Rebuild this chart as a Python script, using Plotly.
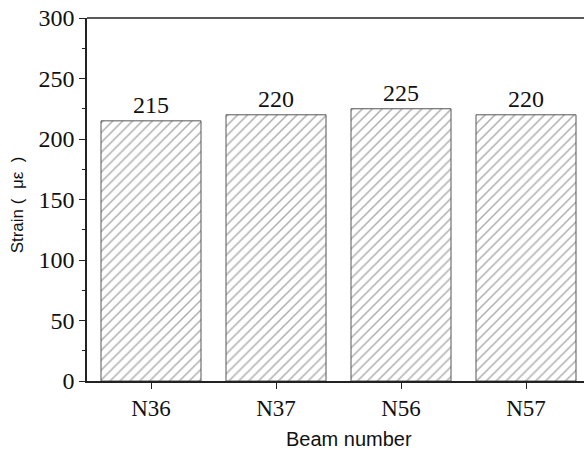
import plotly.graph_objects as go

beams = ["N36", "N37", "N56", "N57"]
strain = [215, 220, 225, 220]
y_ticks = [0, 50, 100, 150, 200, 250, 300]

serif = "Liberation Serif, Times New Roman, serif"
sans = "Liberation Sans, Arial, sans-serif"

fig = go.Figure(
    go.Bar(
        x=beams,
        y=strain,
        width=0.8,
        marker=dict(
            color="white",
            line=dict(color="#555555", width=1),
            pattern=dict(shape="/", fgcolor="#5e5e5e", bgcolor="white",
                         size=7, solidity=0.22),
        ),
        text=[str(v) for v in strain],
        textposition="outside",
        textfont=dict(family=serif, size=24, color="#111111"),
        cliponaxis=False,
    )
)

fig.update_layout(
    width=584,
    height=450,
    margin=dict(l=87, r=0, t=18, b=69),
    plot_bgcolor="white",
    paper_bgcolor="white",
    showlegend=False,
    xaxis=dict(
        range=[-0.512, 3.464],
        showline=True,
        linecolor="#222222",
        linewidth=1.5,
        ticks="outside",
        ticklen=6,
        tickcolor="#222222",
        tickfont=dict(family=serif, size=23, color="#111111"),
        showgrid=False,
        zeroline=False,
    ),
    yaxis=dict(
        range=[0, 300],
        tickvals=y_ticks,
        showline=True,
        linecolor="#222222",
        linewidth=1.5,
        ticks="outside",
        ticklen=6,
        tickcolor="#222222",
        minor=dict(ticks="outside", ticklen=3, tickcolor="#222222", dtick=25),
        tickfont=dict(family=serif, size=24, color="#111111"),
        showgrid=False,
        zeroline=False,
    ),
)

# axis titles
fig.add_annotation(text="Beam number", xref="paper", yref="paper", x=0.527, y=-0.16,
                   yanchor="middle", showarrow=False,
                   font=dict(family=sans, size=20, color="#111111"))
fig.add_annotation(text="Strain (\u00a0\u00a0με\u00a0\u00a0)", xref="paper", yref="paper",
                   x=-0.138, y=0.485, xanchor="center", yanchor="middle", textangle=-90,
                   showarrow=False, font=dict(family=sans, size=17, color="#111111"))

# top border of the plot frame
fig.add_shape(type="line", xref="paper", yref="paper", x0=0, x1=1, y0=1, y1=1,
              line=dict(color="#222222", width=1.5))

fig.write_html("out.html")
